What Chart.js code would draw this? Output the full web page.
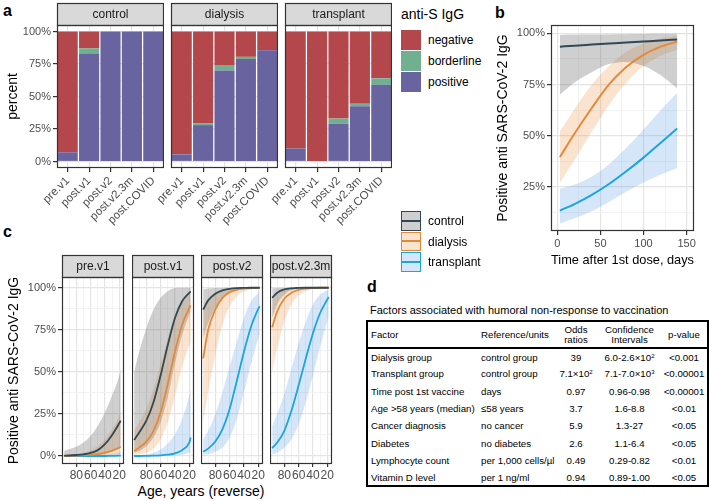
<!DOCTYPE html>
<html>
<head>
<meta charset="utf-8">
<title>Anti-S IgG response</title>
<script src="https://cdn.jsdelivr.net/npm/chart.js"></script>
<style>
  body { margin: 0; width: 709px; height: 501px; position: relative; overflow: hidden; background: #fff;
         font-family: "Liberation Sans", Arial, sans-serif; color: #000; }
  canvas { position: absolute; }
  .tag { position: absolute; font-weight: bold; font-size: 16px; line-height: 16px; }
  .txt { position: absolute; white-space: nowrap; }
  .key { position: absolute; width: 20px; box-sizing: border-box; }
  .keyline { position: absolute; left: 0; right: 0; top: 50%; height: 2px; margin-top: -1px; }
  #tbl { position: absolute; left: 366px; top: 320px; width: 341px; border-collapse: collapse; table-layout: fixed;
         border: 2px solid #000; font-size: 9.7px; }
  #tbl td, #tbl th { padding: 0; font-weight: normal; white-space: nowrap; }
  #tbl td.l, #tbl th.l { padding-left: 3px; }
  #tbl thead tr { height: 27px; border-bottom: 2px solid #000; }
  #tbl thead th { line-height: 10px; }
  #tbl tbody tr { height: 17.3px; }
  #tbl sup { font-size: 6px; vertical-align: 3px; line-height: 0; }
  .c { text-align: center; }
  .l { text-align: left; }
</style>
</head>
<body>
<div class="tag" style="left:3px; top:3px;">a</div>
<div class="tag" style="left:495px; top:5px;">b</div>
<div class="tag" style="left:3px; top:224px;">c</div>
<div class="tag" style="left:367px; top:279px;">d</div>

<canvas id="aControl"></canvas>
<canvas id="aDialysis"></canvas>
<canvas id="aTransplant"></canvas>
<canvas id="bChart"></canvas>
<canvas id="cPre"></canvas>
<canvas id="cPost1"></canvas>
<canvas id="cPost2"></canvas>
<canvas id="cPost3m"></canvas>

<div id="legendA"></div>
<div id="legendB"></div>
<div class="txt" style="left:101px; top:482px; width:200px; text-align:center; font-size:14px; line-height:18px;">Age, years (reverse)</div>

<div class="txt" style="left:370px; top:304px; font-size:11px; line-height:13px;">Factors associated with humoral non-response to vaccination</div>
<table id="tbl">
  <colgroup><col style="width:111px"><col style="width:76px"><col style="width:44px"><col style="width:63px"><col style="width:47px"></colgroup>
  <thead><tr><th class="l">Factor</th><th class="l">Reference/units</th><th class="c">Odds<br>ratios</th><th class="c">Confidence<br>Intervals</th><th class="c">p-value</th></tr></thead>
  <tbody id="tbody"></tbody>
</table>

<script>
// ---- panel a: anti-S IgG category per visit (percent of group) ----
const visits = ['pre.v1', 'post.v1', 'post.v2', 'post.v2.3m', 'post.COVID'];
const posControl = [7, 83, 100, 100, 100];
const bordControl = [0, 4, 0, 0, 0];
const negControl = [93, 13, 0, 0, 0];
const posDialysis = [5.5, 28, 70, 78.8, 85.5];
const bordDialysis = [0, 1.3, 3.7, 1.7, 0];
const negDialysis = [94.5, 70.7, 26.3, 19.5, 14.5];
const posTransplant = [10, 0, 29, 42.5, 59];
const bordTransplant = [0, 0, 4, 2, 5];
const negTransplant = [90, 100, 67, 55.5, 36];

// ---- panel b: fitted probability vs days after 1st dose ----
const days = [3, 20, 40, 60, 80, 100, 120, 139];
const bControl = [93.5, 94, 94.5, 95, 95.5, 96, 96.5, 97];
const bControlLo = [70, 76, 81, 85, 86, 84, 79.5, 73];
const bControlHi = [99.2, 99.3, 99.4, 99.5, 99.6, 99.7, 99.8, 99.8];
const bDialysis = [39.5, 51, 63.5, 75, 83.5, 89.5, 93.5, 96];
const bDialysisLo = [27, 38, 52, 65, 76, 84, 89, 92];
const bDialysisHi = [52, 63, 75, 84, 91, 95, 97.5, 98.8];
const bTransplant = [13.3, 16.5, 21, 26.3, 32.5, 39.2, 46.5, 53.5];
const bTransplantLo = [7, 9.5, 13, 17.5, 22.5, 27, 31, 34];
const bTransplantHi = [24, 26, 30, 36, 44, 53, 62.5, 71];

// ---- panel c: fitted probability vs age, per visit ----
const ages = [97, 90, 80, 70, 60, 50, 40, 30, 20, 18];
const preControl = [0.2, 0.3, 0.6, 1, 1.8, 3.5, 7, 12.5, 19.5, 21];
const preControlLo = [0, 0, 0, 0, 0.2, 0.5, 1, 2.5, 4.5, 5];
const preControlHi = [3, 4, 5.5, 8, 12, 18, 26, 36, 48, 52];
const preDialysis = [0, 0.1, 0.2, 0.4, 0.7, 1.2, 2, 3.2, 5, 5.5];
const preDialysisLo = [0, 0, 0, 0, 0, 0.1, 0.3, 0.6, 1, 1.2];
const preDialysisHi = [0.5, 0.8, 1.2, 2, 3.5, 6, 10, 16, 24, 27];
const preTransplant = [0, 0, 0, 0, 0, 0, 0, 0.1, 0.2, 0.3];
const preTransplantLo = [0, 0, 0, 0, 0, 0, 0, 0, 0, 0];
const preTransplantHi = [0.2, 0.2, 0.3, 0.4, 0.5, 0.7, 1, 1.5, 2.5, 3];

const p1Control = [9.5, 14, 21, 32, 48, 66, 82, 92, 97, 97.8];
const p1ControlLo = [2, 3, 6, 11, 20, 35, 55, 72, 84, 86];
const p1ControlHi = [50, 62, 76, 87, 94, 98, 99.8, 100, 100, 100];
const p1Dialysis = [3, 5, 8.5, 15, 26, 43, 62, 78, 88, 89.5];
const p1DialysisLo = [0.5, 1, 2, 4.5, 10, 20, 36, 53, 66, 68];
const p1DialysisHi = [15, 20, 28, 40, 55, 70, 84, 93, 97.5, 98];
const p1Transplant = [0, 0, 0.1, 0.2, 0.4, 0.8, 1.6, 3.5, 8, 11];
const p1TransplantLo = [0, 0, 0, 0, 0, 0.1, 0.3, 0.8, 2, 2.5];
const p1TransplantHi = [0.3, 0.5, 1, 2, 4, 7.5, 13, 22, 36, 40];

const p2Control = [87, 92.5, 96.5, 98.5, 99.4, 99.8, 99.9, 100, 100, 100];
const p2ControlLo = [70, 79, 88, 94.5, 97.5, 99, 99.5, 99.8, 99.9, 99.9];
const p2ControlHi = [99, 99.5, 99.8, 99.9, 100, 100, 100, 100, 100, 100];
const p2Dialysis = [58, 75, 87, 94, 97.3, 98.8, 99.5, 99.8, 99.9, 100];
const p2DialysisLo = [20, 38, 60, 78, 89, 95, 97.8, 99, 99.5, 99.6];
const p2DialysisHi = [88, 93.5, 97, 98.8, 99.5, 99.8, 99.9, 100, 100, 100];
const p2Transplant = [2.5, 4.4, 8.6, 16, 28, 44.6, 62, 77, 87.4, 89];
const p2TransplantLo = [0.5, 1, 2.5, 5, 11, 22, 38, 55, 70, 73];
const p2TransplantHi = [10, 15, 25, 38, 53, 68, 82, 92, 97, 98];

const p3Control = [94, 97, 99, 99.7, 99.9, 100, 100, 100, 100, 100];
const p3ControlLo = [82, 90, 96, 98.5, 99.5, 99.8, 99.9, 100, 100, 100];
const p3ControlHi = [99.5, 99.8, 100, 100, 100, 100, 100, 100, 100, 100];
const p3Dialysis = [76.5, 86, 93.5, 97, 98.8, 99.5, 99.8, 100, 100, 100];
const p3DialysisLo = [50, 64, 80, 90, 95.5, 98, 99.2, 99.7, 99.9, 99.9];
const p3DialysisHi = [93, 96, 98.5, 99.5, 99.8, 100, 100, 100, 100, 100];
const p3Transplant = [4.6, 8, 15, 27, 42, 58, 73, 85, 93, 94.5];
const p3TransplantLo = [1, 2, 5, 10, 19, 32, 48, 65, 80, 83];
const p3TransplantHi = [18, 25, 37, 52, 67, 80, 90, 96, 98.5, 99];

// ---- panel d: table ----
const factors = ['Dialysis group', 'Transplant group', 'Time post 1st vaccine', 'Age >58 years (median)', 'Cancer diagnosis', 'Diabetes', 'Lymphocyte count', 'Vitamin D level'];
const refs = ['control group', 'control group', 'days', '≤58 years', 'no cancer', 'no diabetes', 'per 1,000 cells/µl', 'per 1 ng/ml'];
const odds = ['39', '7.1×10<sup>2</sup>', '0.97', '3.7', '5.9', '2.6', '0.49', '0.94'];
const cis = ['6.0-2.6×10<sup>2</sup>', '7.1-7.0×10<sup>3</sup>', '0.96-0.98', '1.6-8.8', '1.3-27', '1.1-6.4', '0.29-0.82', '0.89-1.00'];
const pvals = ['<0.001', '<0.00001', '<0.00001', '<0.01', '<0.05', '<0.05', '<0.01', '<0.05'];

const colNeg = '#B3474B', colBord = '#70B090', colPos = '#6963A0';
const colControl = '#2E4A56', colDialysis = '#E38A3A', colTransplant = '#19A6DE';
const bandControl = 'rgba(105,105,105,0.32)';
const bandDialysis = 'rgba(240,150,70,0.26)';
const bandTransplant = 'rgba(95,160,230,0.26)';
const FONT = '"Liberation Sans", Arial, sans-serif';
const tickCol = '#4D4D4D';

Chart.defaults.animation = false;
Chart.defaults.responsive = false;
Chart.defaults.font.family = FONT;
Chart.defaults.plugins.legend.display = false;
Chart.defaults.plugins.tooltip.enabled = false;

// panel border and facet strip
const frame = {
  id: 'frame',
  afterDraw(chart, args, o) {
    const a = chart.chartArea, ctx = chart.ctx;
    ctx.save();
    ctx.strokeStyle = '#333';
    ctx.lineWidth = 1.2;
    if (o.strip) {
      const h = o.stripH;
      ctx.fillStyle = '#D9D9D9';
      ctx.fillRect(a.left, a.top - h, a.right - a.left, h);
      ctx.strokeRect(a.left + 0.5, a.top - h + 0.5, a.right - a.left - 1, h);
      ctx.save();
      ctx.beginPath();
      ctx.rect(a.left + 1, a.top - h, a.right - a.left - 2, h);
      ctx.clip();
      ctx.fillStyle = '#1A1A1A';
      ctx.font = '12px ' + FONT;
      ctx.textAlign = 'center';
      ctx.textBaseline = 'middle';
      ctx.fillText(o.strip, (a.left + a.right) / 2, a.top - h / 2 + 0.5);
      ctx.restore();
    }
    ctx.strokeRect(a.left + 0.5, a.top + 0.5, a.right - a.left - 1, a.bottom - a.top - 1);
    ctx.restore();
  }
};

function place(id, x, y, w, h) {
  const c = document.getElementById(id);
  c.width = w; c.height = h;
  c.style.left = x + 'px'; c.style.top = y + 'px';
  return c;
}
function fit(w, h) {
  return s => {
    if (w !== null) s.width = w;
    if (h !== null) s.height = h;
    s.paddingLeft = s.paddingRight = s.paddingTop = s.paddingBottom = 0;
  };
}
function setTicks(list) {
  return s => { s.ticks = list.map(v => ({ value: v })); };
}
function grid(isMajor, tickLen) {
  return {
    offset: false,
    color: c => (c.tick && isMajor(c.tick.value)) ? '#E4E4E4' : '#F0F0F0',
    lineWidth: c => (c.tick && isMajor(c.tick.value)) ? 1.2 : 0.8,
    tickColor: c => (c.tick && isMajor(c.tick.value)) ? '#333' : 'rgba(0,0,0,0)',
    tickLength: tickLen,
    drawTicks: tickLen > 0
  };
}
const pts = (xs, ys) => xs.map((x, i) => ({ x: x, y: ys[i] }));
const quarter = v => Math.abs(v % 25) < 0.01;
const pctTicks = [0, 12.5, 25, 37.5, 50, 62.5, 75, 87.5, 100];

// ---------- panel a ----------
function barFacet(id, left, name, pos, bord, neg, first) {
  const padL = first ? left : 48, padT = 25, plotW = 107, plotH = 143, padB = 60;
  place(id, left - padL, 0, padL + plotW, padT + plotH + padB);
  new Chart(document.getElementById(id), {
    type: 'bar',
    data: {
      labels: visits,
      datasets: [
        { data: pos, backgroundColor: colPos },
        { data: bord, backgroundColor: colBord },
        { data: neg, backgroundColor: colNeg }
      ]
    },
    options: {
      barPercentage: 0.94,
      categoryPercentage: 1,
      layout: { padding: { left: 0, top: padT, right: 0, bottom: 0 } },
      plugins: { frame: { strip: name, stripH: 22 } },
      scales: {
        x: {
          stacked: true,
          afterCalculateLabelRotation: s => { s.labelRotation = 45; },
          afterFit: fit(null, padB),
          grid: grid(() => true, 4),
          border: { display: false },
          ticks: { autoSkip: false, minRotation: 45, maxRotation: 45, padding: 2, color: tickCol, font: { size: 11.5 } }
        },
        y: {
          stacked: true, min: -5, max: 105,
          afterBuildTicks: setTicks(pctTicks),
          afterFit: fit(padL, null),
          grid: grid(quarter, first ? 4 : 0),
          border: { display: false },
          ticks: { display: first, autoSkip: false, padding: 2, color: tickCol, font: { size: 11 },
                   callback: v => quarter(v) ? v + '%' : '' },
          title: { display: first, text: 'percent', color: '#000', font: { size: 14 }, padding: { top: 5, bottom: 0 } }
        }
      }
    },
    plugins: [frame]
  });
}
barFacet('aControl', 57, 'control', posControl, bordControl, negControl, true);
barFacet('aDialysis', 171, 'dialysis', posDialysis, bordDialysis, negDialysis, false);
barFacet('aTransplant', 285, 'transplant', posTransplant, bordTransplant, negTransplant, false);

// ---------- ribbons + lines helper ----------
function ribbonSets(xs, groups, width) {
  const sets = [];
  groups.forEach(g => {
    sets.push({ data: pts(xs, g.hi), fill: '+1', backgroundColor: g.band, borderColor: 'rgba(0,0,0,0)', borderWidth: 0,
                pointRadius: 0, order: 2, cubicInterpolationMode: 'monotone' });
    sets.push({ data: pts(xs, g.lo), fill: false, borderColor: 'rgba(0,0,0,0)', borderWidth: 0,
                pointRadius: 0, order: 2, cubicInterpolationMode: 'monotone' });
    sets.push({ data: pts(xs, g.mid), fill: false, borderColor: g.color, borderWidth: width,
                pointRadius: 0, order: 1, cubicInterpolationMode: 'monotone' });
  });
  return sets;
}

// ---------- panel b ----------
(function () {
  const plotL = 551, plotT = 25, plotW = 143, plotH = 206, padL = 61, padR = 10, padB = 37;
  place('bChart', plotL - padL, 0, padL + plotW + padR, plotT + plotH + padB);
  new Chart(document.getElementById('bChart'), {
    type: 'line',
    data: {
      datasets: ribbonSets(days, [
        { mid: bControl, lo: bControlLo, hi: bControlHi, color: colControl, band: bandControl },
        { mid: bDialysis, lo: bDialysisLo, hi: bDialysisHi, color: colDialysis, band: bandDialysis },
        { mid: bTransplant, lo: bTransplantLo, hi: bTransplantHi, color: colTransplant, band: bandTransplant }
      ], 2)
    },
    options: {
      layout: { padding: { left: 0, top: plotT, right: padR, bottom: 0 } },
      plugins: { frame: {} },
      scales: {
        x: {
          type: 'linear', min: -7.3, max: 158.5,
          afterBuildTicks: setTicks([0, 25, 50, 75, 100, 125, 150]),
          afterFit: fit(null, padB),
          grid: grid(v => v % 50 === 0, 4),
          border: { display: false },
          ticks: { autoSkip: false, maxRotation: 0, padding: 2, color: tickCol, font: { size: 11 },
                   callback: v => v % 50 === 0 ? v : '' },
          title: { display: true, text: 'Time after 1st dose, days', color: '#000', font: { size: 13 }, padding: { top: 0, bottom: 0 } }
        },
        y: {
          min: 3.3, max: 104.1,
          afterBuildTicks: setTicks(pctTicks.slice(1)),
          afterFit: fit(padL, null),
          grid: grid(quarter, 4),
          border: { display: false },
          ticks: { autoSkip: false, padding: 2, color: tickCol, font: { size: 11 },
                   callback: v => quarter(v) ? v + '%' : '' },
          title: { display: true, text: 'Positive anti SARS-CoV-2 IgG', color: '#000', font: { size: 14 }, padding: { top: 5, bottom: 0 } }
        }
      }
    },
    plugins: [frame]
  });
})();

// ---------- panel c ----------
function ageFacet(id, left, name, groups, first) {
  const padL = first ? left : 0, padT = 27, plotW = 62, plotH = 187, padB = 18, padR = 7;
  place(id, left - padL, 250, padL + plotW + padR, padT + plotH + padB);
  new Chart(document.getElementById(id), {
    type: 'line',
    data: { datasets: ribbonSets(ages, groups, 1.8) },
    options: {
      layout: { padding: { left: 0, top: padT, right: padR, bottom: 0 } },
      plugins: { frame: { strip: name, stripH: 22 } },
      scales: {
        x: {
          type: 'linear', reverse: true, min: 13.4, max: 100,
          afterBuildTicks: setTicks([90, 80, 70, 60, 50, 40, 30, 20]),
          afterFit: fit(null, padB),
          grid: grid(v => v % 20 === 0, 3),
          border: { display: false },
          ticks: { autoSkip: false, maxRotation: 0, minRotation: 0, padding: 1, color: tickCol, font: { size: 12 },
                   callback: v => v % 20 === 0 ? v : '' }
        },
        y: {
          min: -4.75, max: 106.4,
          afterBuildTicks: setTicks(pctTicks),
          afterFit: fit(padL, null),
          grid: grid(quarter, first ? 4 : 0),
          border: { display: false },
          ticks: { display: first, autoSkip: false, padding: 2, color: tickCol, font: { size: 11 },
                   callback: v => quarter(v) ? v + '%' : '' },
          title: { display: first, text: 'Positive anti SARS-CoV-2 IgG', color: '#000', font: { size: 14 }, padding: { top: 6, bottom: 0 } }
        }
      }
    },
    plugins: [frame]
  });
}
function trio(c, cl, ch, d, dl, dh, t, tl, th) {
  return [
    { mid: c, lo: cl, hi: ch, color: colControl, band: bandControl },
    { mid: d, lo: dl, hi: dh, color: colDialysis, band: bandDialysis },
    { mid: t, lo: tl, hi: th, color: colTransplant, band: bandTransplant }
  ];
}
ageFacet('cPre', 62, 'pre.v1', trio(preControl, preControlLo, preControlHi, preDialysis, preDialysisLo, preDialysisHi,
  preTransplant, preTransplantLo, preTransplantHi), true);
ageFacet('cPost1', 132, 'post.v1', trio(p1Control, p1ControlLo, p1ControlHi, p1Dialysis, p1DialysisLo, p1DialysisHi,
  p1Transplant, p1TransplantLo, p1TransplantHi), false);
ageFacet('cPost2', 201, 'post.v2', trio(p2Control, p2ControlLo, p2ControlHi, p2Dialysis, p2DialysisLo, p2DialysisHi,
  p2Transplant, p2TransplantLo, p2TransplantHi), false);
ageFacet('cPost3m', 270, 'post.v2.3m', trio(p3Control, p3ControlLo, p3ControlHi, p3Dialysis, p3DialysisLo, p3DialysisHi,
  p3Transplant, p3TransplantLo, p3TransplantHi), false);

// ---------- legends ----------
(function () {
  const la = document.getElementById('legendA');
  let html = '<div class="txt" style="left:401px; top:5px; font-size:14px; line-height:18px;">anti-S IgG</div>';
  [['negative', colNeg, 30], ['borderline', colBord, 51], ['positive', colPos, 72]].forEach(k => {
    html += '<div class="key" style="left:401px; top:' + k[2] + 'px; height:20px; background:' + k[1] + ';"></div>';
    html += '<div class="txt" style="left:428px; top:' + (k[2] + 3) + 'px; font-size:12px; line-height:14px;">' + k[0] + '</div>';
  });
  la.innerHTML = html;

  const lb = document.getElementById('legendB');
  html = '';
  [['control', colControl, bandControl, 211], ['dialysis', colDialysis, bandDialysis, 231.5], ['transplant', colTransplant, bandTransplant, 252]].forEach(k => {
    html += '<div class="key" style="left:401px; top:' + k[3] + 'px; height:19.5px; border:1.5px solid ' + k[1] + '; background:' + k[2] + ';">' +
            '<div class="keyline" style="background:' + k[1] + ';"></div></div>';
    html += '<div class="txt" style="left:428px; top:' + (k[3] + 3) + 'px; font-size:12px; line-height:14px;">' + k[0] + '</div>';
  });
  lb.innerHTML = html;
})();

// ---------- table ----------
(function () {
  const tb = document.getElementById('tbody');
  let html = '';
  factors.forEach((f, i) => {
    html += '<tr><td class="l">' + f + '</td><td class="l">' + refs[i] + '</td><td class="c">' + odds[i] +
            '</td><td class="c">' + cis[i] + '</td><td class="c">' + pvals[i].replace('<', '&lt;') + '</td></tr>';
  });
  tb.innerHTML = html;
})();
</script>
</body>
</html>
